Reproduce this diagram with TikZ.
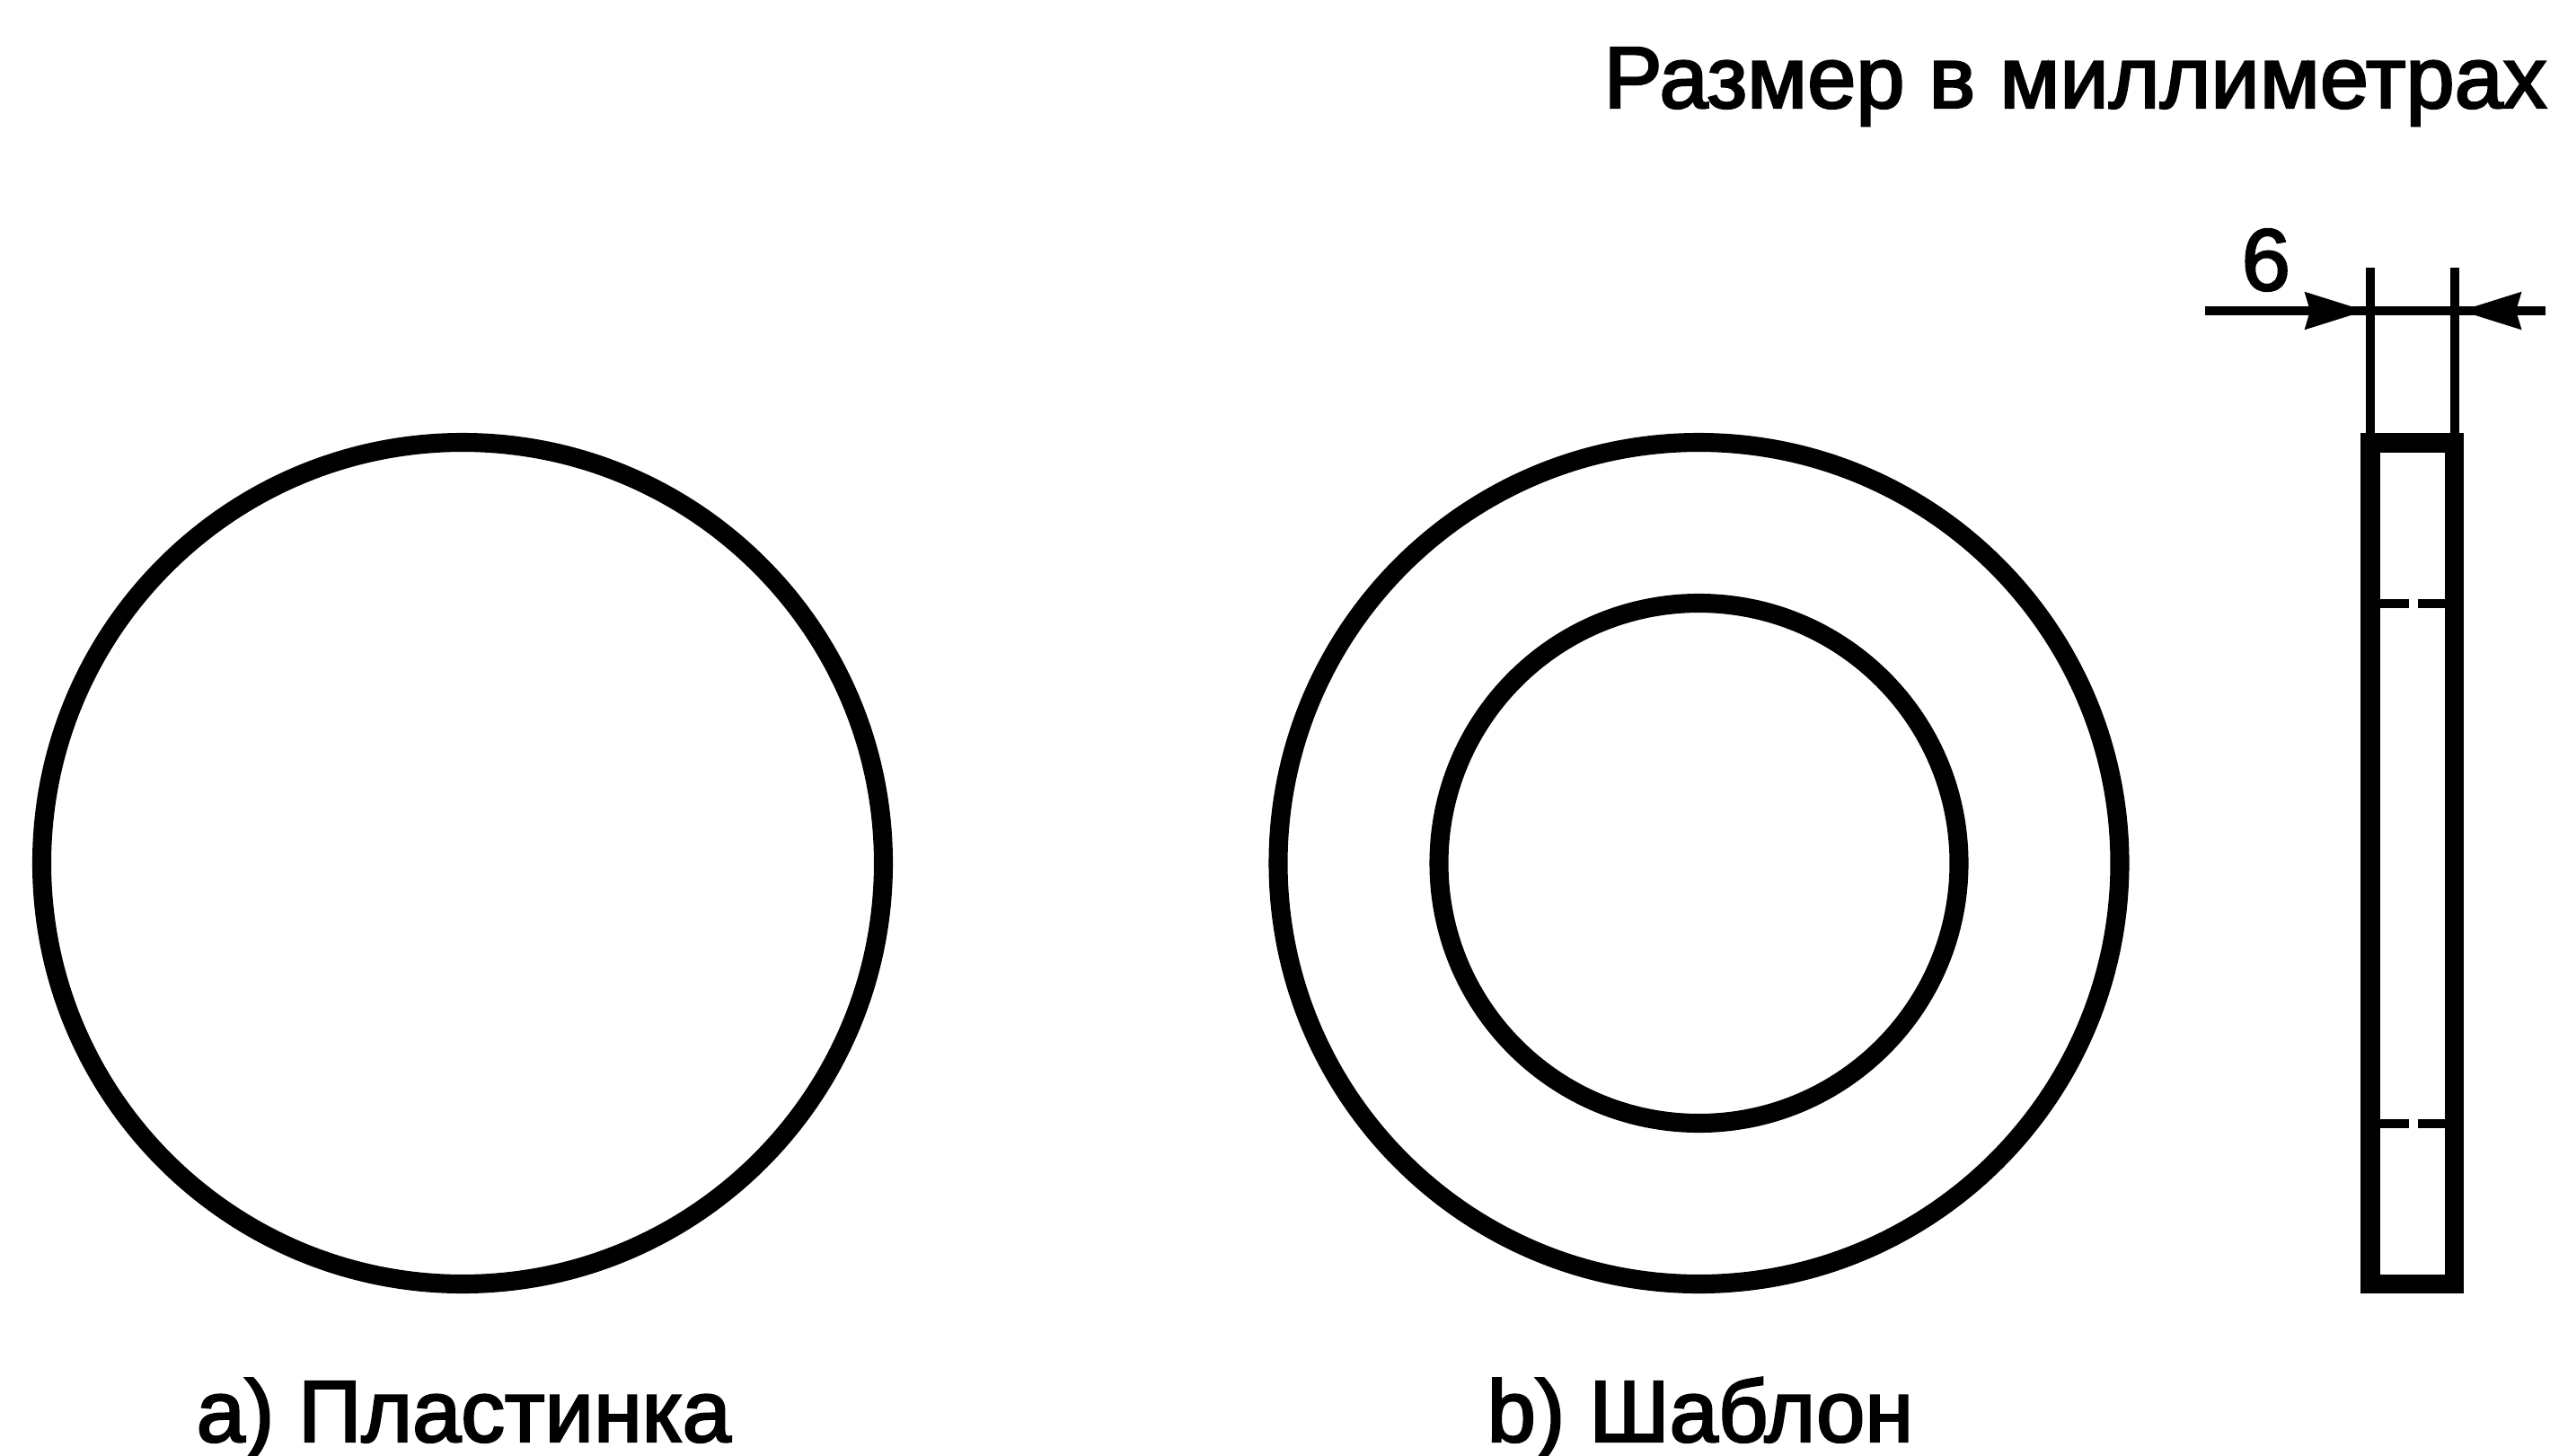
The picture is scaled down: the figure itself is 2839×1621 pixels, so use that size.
\documentclass[tikz,border=0pt]{standalone}
\usepackage{fontspec}
\setmainfont[FakeBold=2.5]{Liberation Sans}
\usetikzlibrary{arrows.meta}
\tikzset{
  x=0.01cm,y=-0.01cm,
  thick line/.style={line width=6pt,draw=black},
  thin line/.style={line width=2.85pt,draw=black},
  dim arrow/.style={thin line,-{Stealth[length=0.67cm,width=0.4cm,inset=0.05cm]}},
  label text/.style={inner sep=0pt,font=\fontsize{27.7pt}{27.7pt}\selectfont,text=black,anchor=base west}
}
\begin{document}
\begin{tikzpicture}
\useasboundingbox (0,0) rectangle (2839,1621);
\node[label text] (title) at (1785,120) {Размер в миллиметрах};
\node[label text] (six) at (2495,323) {6};
\node[label text] (capa) at (218,1605) {a) Пластинка};
\node[label text] (capb) at (1655,1605) {b) Шаблон};
\draw[thick line] (515,961) circle (468.5);
\draw[thick line] (1891.5,961) circle (468.5);
\draw[thick line] (1891.5,961) circle (289.5);
\draw[thick line,miter limit=10] (2639,493) rectangle (2732.5,1429.5);
\draw[thin line] (2639,298) -- (2639,482);
\draw[thin line] (2732.5,298) -- (2732.5,482);
\coordinate (la) at (2455,346);
\coordinate (ltip) at (2634,346);
\coordinate (ra) at (2834,346);
\coordinate (rtip) at (2739,346);
\draw[thin line] (la) -- (ra);
\draw[dim arrow] (la) -- (ltip);
\draw[dim arrow] (ra) -- (rtip);
\draw[thin line] (2650,672) -- (2682,672);
\draw[thin line] (2692,672) -- (2722,672);
\draw[thin line] (2650,1251) -- (2682,1251);
\draw[thin line] (2692,1251) -- (2722,1251);
\end{tikzpicture}
\end{document}
